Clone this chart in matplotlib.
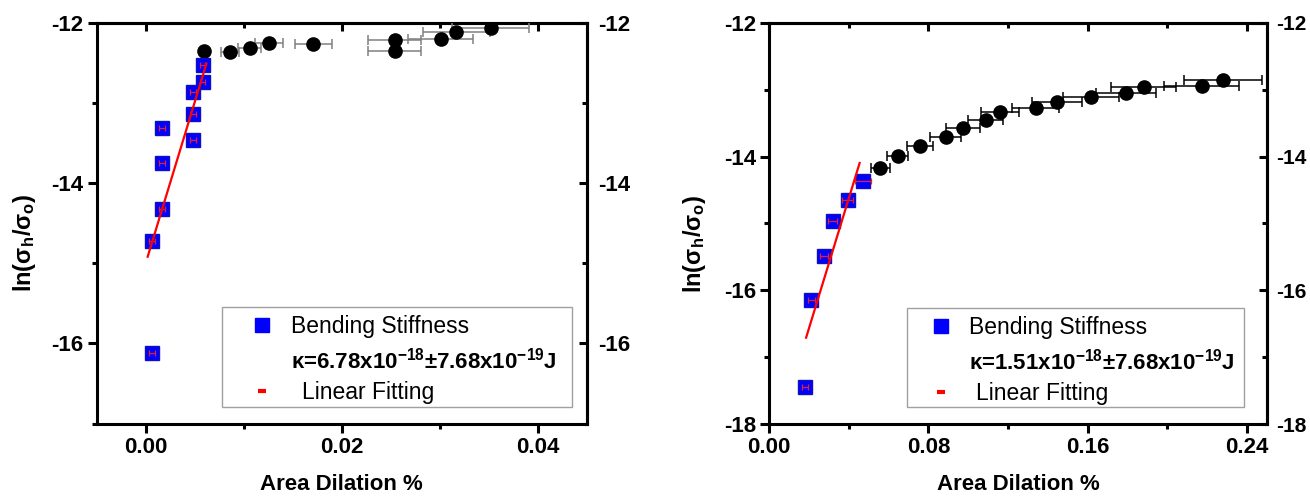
import matplotlib
matplotlib.use("Agg")
import matplotlib.pyplot as plt
import numpy as np
from matplotlib.patches import Rectangle
from matplotlib.ticker import MultipleLocator, FixedLocator, FormatStrFormatter

plt.rcParams['font.family'] = ['Liberation Sans', 'DejaVu Sans']
plt.rcParams['mathtext.default'] = 'regular'

# ---- left panel data ----
sq_x_L = [0.0058, 0.0058, 0.0048, 0.0048, 0.0048, 0.0017, 0.0017, 0.0017, 0.0006, 0.0006]
sq_y_L = [-12.53, -12.74, -12.87, -13.14, -13.46, -13.31, -13.75, -14.33, -14.72, -16.12]
sq_xerr_L = [0.0003] * 10
circ_x_L = [0.0059, 0.0086, 0.0106, 0.0126, 0.0171, 0.0254, 0.0254, 0.0301, 0.0317, 0.0352]
circ_y_L = [-12.35, -12.37, -12.31, -12.25, -12.27, -12.22, -12.35, -12.20, -12.12, -12.07]
circ_xerr_L = [0.0, 0.0009, 0.0012, 0.0014, 0.0019, 0.0027, 0.0027, 0.0033, 0.0034, 0.0039]
fit_L = (401.7, -15.0)          # slope, intercept
fit_range_L = (0.0002, 0.0062)
kappa_L = r"κ=6.78x10$^{-18}$±7.68x10$^{-19}$J"
yticks_L = [-16, -14, -12]
xticks_L = [0.00, 0.02, 0.04]

# ---- right panel data ----
sq_x_R = [0.0181, 0.0210, 0.0276, 0.0318, 0.0395, 0.0473]
sq_y_R = [-17.45, -16.14, -15.48, -14.97, -14.65, -14.37]
sq_xerr_R = [0.0015, 0.0018, 0.0020, 0.0022, 0.0028, 0.0040]
circ_x_R = [0.0557, 0.0646, 0.0759, 0.0886, 0.0974, 0.1088, 0.1159, 0.1338,
            0.1447, 0.1618, 0.1794, 0.1881, 0.2173, 0.2280]
circ_y_R = [-14.17, -13.99, -13.84, -13.71, -13.57, -13.46, -13.34, -13.27,
            -13.18, -13.11, -13.05, -12.96, -12.94, -12.86]
circ_xerr_R = [0.0048, 0.0053, 0.0066, 0.0076, 0.0084, 0.0088, 0.0097, 0.0116,
               0.0126, 0.0140, 0.0152, 0.0162, 0.0190, 0.0198]
fit_R = (97.0, -18.50)
fit_range_R = (0.0185, 0.0454)
kappa_R = r"κ=1.51x10$^{-18}$±7.68x10$^{-19}$J"
yticks_R = [-18, -16, -14, -12]
xticks_R = [0.00, 0.08, 0.16, 0.24]

legend_labels = ['Bending Stiffness', 'Linear Fitting']

W, H = 1310, 496
fig = plt.figure(figsize=(W / 100, H / 100), dpi=100)

axL = fig.add_axes([96.7 / W, (H - 423.5) / H, 490 / W, 400.8 / H])
axR = fig.add_axes([769.3 / W, (H - 424.3) / H, 497.4 / W, 401.6 / H])

TICK_FS = 16
LABEL_FS = 16
SPINE_W = 2.2
BLUE = '#0000ff'
RED = '#ff0000'


def style_axes(ax, xlim, ylim, xticks, xmin, yticks, right_fs, right_pad):
    ax.set_xlim(*xlim)
    ax.set_ylim(*ylim)
    for s in ax.spines.values():
        s.set_linewidth(SPINE_W)
    ax.xaxis.set_major_locator(FixedLocator(xticks))
    ax.xaxis.set_minor_locator(MultipleLocator(xmin))
    ax.yaxis.set_major_locator(FixedLocator(yticks))
    ax.yaxis.set_minor_locator(MultipleLocator(1))
    ax.xaxis.set_major_formatter(FormatStrFormatter('%.2f'))
    ax.yaxis.set_major_formatter(FormatStrFormatter('%d'))
    ax.tick_params(which='major', direction='out', length=6.5, width=SPINE_W,
                   labelsize=TICK_FS, pad=3)
    ax.tick_params(which='minor', direction='out', length=3.5, width=SPINE_W)
    for lab in ax.get_xticklabels() + ax.get_yticklabels():
        lab.set_fontweight('bold')

    # mirrored axes: ticks pointing inward on top and right
    top = ax.secondary_xaxis('top')
    top.xaxis.set_major_locator(FixedLocator(xticks))
    top.xaxis.set_minor_locator(MultipleLocator(xmin))
    top.tick_params(which='both', direction='in', width=SPINE_W, labeltop=False)
    top.tick_params(which='major', length=6)
    top.tick_params(which='minor', length=3.5)
    top.spines['top'].set_linewidth(SPINE_W)

    right = ax.secondary_yaxis('right')
    right.yaxis.set_major_locator(FixedLocator(yticks))
    right.yaxis.set_minor_locator(MultipleLocator(1))
    right.yaxis.set_major_formatter(FormatStrFormatter('%d'))
    right.tick_params(which='both', direction='in', width=SPINE_W,
                      labelsize=right_fs, pad=right_pad)
    right.tick_params(which='major', length=6)
    right.tick_params(which='minor', length=3.5)
    right.spines['right'].set_linewidth(SPINE_W)
    for lab in right.get_yticklabels():
        lab.set_fontweight('bold')

    ax.set_xlabel('Area Dilation %', fontsize=LABEL_FS, fontweight='bold')
    ax.set_ylabel('ln(σ$_h$/σ$_o$)', fontsize=LABEL_FS + 1, fontweight='bold')


def draw_panel(ax, sx, sy, sxe, cx, cy, cxe, fit, frange, ecolor):
    ax.errorbar(cx, cy, xerr=cxe, fmt='o', color='black', ms=9.5,
                ecolor=ecolor, elinewidth=1.1, capsize=3.5, capthick=1.1, zorder=3)
    ax.plot(sx, sy, 's', color=BLUE, mec='#1010c0', ms=10, zorder=4)
    ax.errorbar(sx, sy, xerr=sxe, fmt='none', ecolor='#e0203a', elinewidth=0.9,
                capsize=2.5, capthick=0.9, zorder=5)
    xf = np.array(frange)
    ax.plot(xf, fit[0] * xf + fit[1], color=RED, lw=1.6, zorder=6)


def draw_key(ax, kappa, box, mark_x, text_x, fit_text_x, rows_mark, rows_base):
    x0, y0, x1, y1 = box
    ax.add_patch(Rectangle((x0, y0), x1 - x0, y1 - y0, transform=ax.transAxes,
                           facecolor='white', edgecolor='#a0a0a0', lw=1.0, zorder=7))
    ax.plot([mark_x], [rows_mark[0]], 's', color=BLUE, ms=10,
            transform=ax.transAxes, zorder=8, clip_on=False)
    ax.plot([mark_x], [rows_mark[1]], '_', color=RED, ms=6, mew=3,
            transform=ax.transAxes, zorder=8, clip_on=False)
    ax.text(text_x, rows_base[0], legend_labels[0], transform=ax.transAxes,
            fontsize=16.5, va='baseline', ha='left', zorder=9)
    ax.text(text_x, rows_base[1], kappa, transform=ax.transAxes,
            fontsize=16, fontweight='bold', va='baseline', ha='left', zorder=9)
    ax.text(fit_text_x, rows_base[2], legend_labels[1], transform=ax.transAxes,
            fontsize=16.5, va='baseline', ha='left', zorder=9)


style_axes(axL, (-0.005, 0.045), (-17, -12), xticks_L, 0.01, yticks_L, 16, 8)
style_axes(axR, (0.0, 0.25), (-18, -12), xticks_R, 0.04, yticks_R, 15, 6.5)

axL.yaxis.set_label_coords(-0.12, 0.45)
axR.yaxis.set_label_coords(-0.123, 0.45)
axL.xaxis.set_label_coords(0.5, -0.127)
axR.xaxis.set_label_coords(0.5, -0.125)

draw_panel(axL, sq_x_L, sq_y_L, sq_xerr_L, circ_x_L, circ_y_L, circ_xerr_L,
           fit_L, fit_range_L, '#808080')
draw_panel(axR, sq_x_R, sq_y_R, sq_xerr_R, circ_x_R, circ_y_R, circ_xerr_R,
           fit_R, fit_range_R, 'black')

draw_key(axL, kappa_L, (0.256, 0.040, 0.969, 0.290), 0.337, 0.396, 0.418,
         (0.246, 0.082), (0.226, 0.136, 0.061))
draw_key(axR, kappa_R, (0.276, 0.044, 0.954, 0.289), 0.346, 0.402, 0.415,
         (0.245, 0.081), (0.225, 0.136, 0.061))

fig.savefig('out.png', dpi=100)
